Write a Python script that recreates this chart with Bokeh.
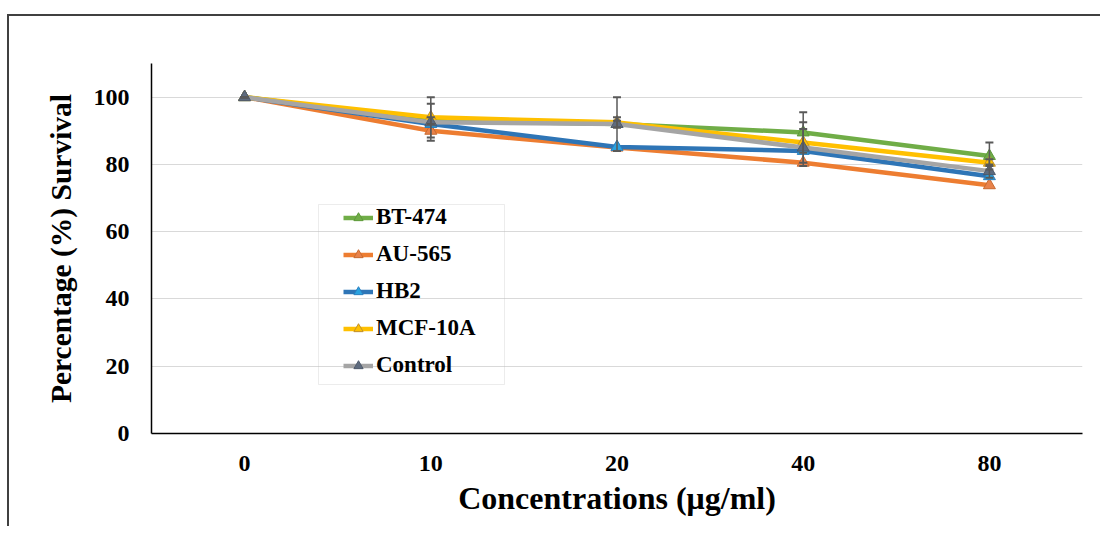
from bokeh.plotting import figure
from bokeh.models import (FactorRange, Range1d, Legend, LegendItem, Whisker,
                          ColumnDataSource, BoxAnnotation, FixedTicker, TeeHead)
from bokeh.embed import file_html
from bokeh.resources import INLINE

# ---- data ----
concentrations = ["0", "10", "20", "40", "80"]
bt474 = [100, 93, 92, 89.5, 82.5]
au565 = [100, 90, 85, 80.5, 73.8]
hb2 = [100, 92, 85.2, 84, 76.5]
mcf10a = [100, 94, 92.5, 86.5, 80.5]
control = [100, 92.5, 92, 85, 78]

bt474_err = [0, 1, 1, 6, 4]
mcf10a_err = [0, 6, 1.5, 6, 1]
control_err = [0, 5.5, 8, 5.5, 2]

y_ticks = [0, 20, 40, 60, 80, 100]

series = [
    ("BT-474", bt474, "#70AD47", "#70AD47", "#5E9A3A"),
    ("AU-565", au565, "#ED7D31", "#E8824A", "#C86A30"),
    ("HB2", hb2, "#2E75B6", "#2AA3E0", "#2A80C0"),
    ("MCF-10A", mcf10a, "#FFC000", "#FFC000", "#C09030"),
    ("Control", control, "#A5A5A5", "#5E6B7E", "#4E5A6C"),
]

FONT = "Liberation Serif"
FIG_X, FIG_Y = 9, 16   # canvas origin on the page (after margin + border)

p = figure(width=1093, height=512, x_range=FactorRange(*concentrations, range_padding=0),
           y_range=Range1d(0, 110), output_backend="svg", toolbar_location=None,
           min_border_left=151 - FIG_X, min_border_top=63 - FIG_Y,
           min_border_right=20, min_border_bottom=95)
p.styles = {"margin-left": "7px", "margin-top": "14px",
            "border-left": "2px solid #404040", "border-top": "2px solid #404040"}
p.outline_line_color = None
p.background_fill_color = "white"
p.border_fill_color = "white"

# axes
p.xaxis.axis_label = "Concentrations (\u03bcg/ml)"
p.yaxis.axis_label = "Percentage (%) Survival"
for ax in (p.xaxis[0], p.yaxis[0]):
    ax.axis_label_text_font = FONT
    ax.axis_label_text_font_style = "bold"
    ax.axis_label_text_color = "black"
    ax.major_label_text_font = FONT
    ax.major_label_text_font_style = "bold"
    ax.major_label_text_font_size = "24px"
    ax.major_label_text_color = "black"
    ax.major_tick_line_color = None
    ax.minor_tick_line_color = None
    ax.axis_line_color = "black"
    ax.axis_line_width = 1.5
p.xaxis.axis_label_text_font_size = "32px"
p.yaxis.axis_label_text_font_size = "29.5px"
p.yaxis.ticker = FixedTicker(ticks=y_ticks)
p.yaxis.major_label_standoff = 16
p.yaxis.axis_label_standoff = 14
p.xaxis.major_label_standoff = 16
p.xaxis.axis_label_standoff = 6
p.xgrid.grid_line_color = None
p.ygrid.grid_line_color = "#D9D9D9"
p.ygrid.grid_line_width = 1
p.ygrid.ticker = FixedTicker(ticks=[20, 40, 60, 80, 100])

# error bars
for vals, err in ((bt474, bt474_err), (mcf10a, mcf10a_err), (control, control_err)):
    src = ColumnDataSource(dict(x=concentrations,
                                upper=[v + e for v, e in zip(vals, err)],
                                lower=[v - e for v, e in zip(vals, err)]))
    w = Whisker(base="x", upper="upper", lower="lower", source=src,
                line_color="#595959", line_width=1.5, level="glyph",
                upper_head=TeeHead(size=8, line_color="#595959", line_width=2),
                lower_head=TeeHead(size=8, line_color="#595959", line_width=2))
    p.add_layout(w)

items = []
for name, vals, lc, mc, mlc in series:
    r1 = p.line(concentrations, vals, line_color=lc, line_width=4.5)
    r2 = p.scatter(concentrations, vals, marker="triangle", size=12,
                   fill_color=mc, line_color=mlc, line_width=1)
    items.append(LegendItem(label=name, renderers=[r1, r2]))

legend = Legend(items=items, location=(192, 55), padding=0, spacing=11,
                label_height=23, glyph_height=23, glyph_width=30, label_standoff=3,
                border_line_alpha=0, background_fill_alpha=0, margin=0,
                label_text_font=FONT, label_text_font_style="bold",
                label_text_font_size="23px", label_text_color="black")
p.add_layout(legend)

# legend frame
p.add_layout(BoxAnnotation(left=316 - FIG_X, right=502 - FIG_X,
                           top=202 - FIG_Y, bottom=382 - FIG_Y,
                           left_units="canvas", right_units="canvas",
                           top_units="canvas", bottom_units="canvas",
                           fill_alpha=0, line_color="#BFBFBF", line_width=1))

open("out.html", "w").write(file_html(p, INLINE))
